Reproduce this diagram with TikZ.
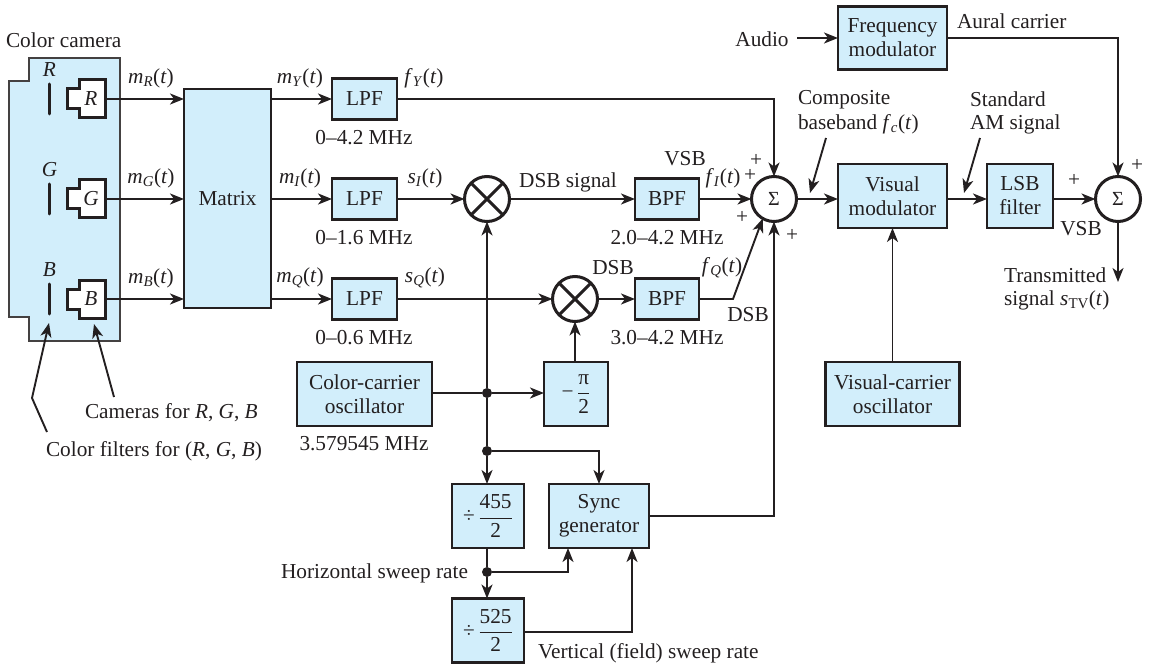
\documentclass[tikz,border=0pt]{standalone}
\usepackage{fontspec}
\setmainfont{Liberation Serif}
\usetikzlibrary{arrows.meta,calc}
\definecolor{ink}{HTML}{231F20}
\definecolor{fillb}{HTML}{D2EEFB}
\newcommand{\sg}[2]{\textit{#1}\textsubscript{\textit{#2}}(\textit{t})}
\newcommand{\frc}[2]{$\displaystyle\frac{\hbox{#1}}{\hbox{#2}}$}
\tikzset{
  box/.style={draw=ink,line width=2.1pt,fill=fillb,inner sep=0pt,outer sep=0pt,align=center,text=ink},
  sumn/.style={draw=ink,line width=3pt,fill=white,circle,inner sep=0pt,outer sep=0pt,minimum size=45pt,text=ink},
  lbl/.style={text=ink,inner sep=0pt,outer sep=0pt,align=center},
  lbll/.style={lbl,anchor=west,align=left},
  wire/.style={draw=ink,line width=1.9pt},
  arr/.style={wire,-{Stealth[length=14pt,width=11pt,inset=4pt]}},
  dotn/.style={circle,fill=ink,inner sep=0pt,outer sep=0pt,minimum size=10pt},
  cam/.style={draw=ink,line width=3pt,fill=white,line join=miter},
  filt/.style={draw=ink,line width=3pt,line cap=round}
}
\begin{document}
\begin{tikzpicture}[x=1pt,y=-1pt,font=\fontsize{21.3}{24}\selectfont]
\useasboundingbox (0,0) rectangle (1150,668);
% camera body
\draw[draw=ink!85,line width=1.9pt,fill=fillb] (29,58) -- (120,58) -- (120,341) -- (29,341) -- (29,317) -- (9,317) -- (9,81) -- (29,81) -- cycle;
\foreach \n/\c/\y in {r/R/99,g/G/199,b/B/299}{
  \draw[filt] (49.5,\y-15) -- (49.5,\y+15);
  \draw[cam] (79.5,\y-19) -- (105,\y-19) -- (105,\y+19) -- (79.5,\y+19) -- (79.5,\y+10) -- (67,\y+10) -- (67,\y-10) -- (79.5,\y-10) -- cycle;
  \node[lbl] (cam\n) at (91,\y) {\textit{\c}};
  \coordinate (camout\n) at (105,\y);
  \node[lbl] (flt\n) at (49.5,\y-29) {\textit{\c}};
}
\node[lbll] (title) at (6,40) {Color camera};
% blocks
\node[box,minimum width=87pt,minimum height=219pt] (matrix) at (227.5,198.5) {Matrix};
\foreach \n/\y/\t in {lpfa/99/LPF,lpfb/199/LPF,lpfc/299/LPF}{
  \node[box,minimum width=65pt,minimum height=41pt] (\n) at (364.5,\y) {\t};
}
\node[box,minimum width=64pt,minimum height=41pt] (bpfa) at (667,199) {BPF};
\node[box,minimum width=64pt,minimum height=41pt] (bpfb) at (667,299) {BPF};
\node[sumn] (mixa) at (487,199) {};
\node[sumn] (mixb) at (575,299) {};
\draw[draw=ink,line width=3pt] (mixa.45) -- (mixa.225) (mixa.135) -- (mixa.315);
\draw[draw=ink,line width=3pt] (mixb.45) -- (mixb.225) (mixb.135) -- (mixb.315);
\node[sumn] (suma) at (774,199) {\fontsize{20}{22}\selectfont Σ};
\node[sumn] (sumb) at (1118,199) {\fontsize{20}{22}\selectfont Σ};
\node[box,minimum width=109pt,minimum height=63pt] (freq) at (892.5,38) {Frequency\\modulator};
\node[box,minimum width=109pt,minimum height=64pt] (vis) at (892.5,196) {Visual\\modulator};
\node[box,minimum width=66pt,minimum height=64pt] (lsb) at (1020,196) {LSB\\filter};
\node[box,minimum width=134pt,minimum height=64pt] (visc) at (892.5,394) {Visual-carrier\\oscillator};
\node[box,minimum width=135pt,minimum height=64pt] (colc) at (364.5,394) {Color-carrier\\oscillator};
\node[box,minimum width=64pt,minimum height=64pt] (phase) at (576,394) {−\,\frc{π}{2}};
\node[box,minimum width=72pt,minimum height=64pt] (diva) at (488,516) {÷\,\frc{455}{2}};
\node[box,minimum width=72pt,minimum height=64pt] (divb) at (488,630.5) {÷\,\frc{525}{2}};
\node[box,minimum width=100pt,minimum height=64pt] (sync) at (599,516) {Sync\\generator};
% dots
\node[dotn] (da) at (487,393) {};
\node[dotn] (db) at (487,451) {};
\node[dotn] (dc) at (487,572) {};
% connectors
\foreach \a in {r,g,b}{ \draw[arr] (camout\a) -- (matrix.west |- camout\a); }
\draw[arr] (matrix.east |- lpfa) -- (lpfa.west);
\draw[arr] (matrix.east |- lpfb) -- (lpfb.west);
\draw[arr] (matrix.east |- lpfc) -- (lpfc.west);
\draw[arr] (lpfa.east) -| (suma.north);
\draw[arr] (lpfb.east) -- (mixa.west);
\draw[arr] (lpfc.east) -- (mixb.west);
\draw[arr] (mixa.east) -- (bpfa.west);
\draw[arr] (mixb.east) -- (bpfb.west);
\draw[arr] (bpfa.east) -- (suma.west);
\coordinate (bend) at (733,299);
\draw[arr] (bpfb.east) -- (bend) -- (suma.240);
\draw[arr] (suma.east) -- (vis.west |- suma);
\draw[arr] (vis.east |- suma) -- (lsb.west |- suma);
\draw[arr] (lsb.east |- sumb) -- (sumb.west);
\draw[arr] (visc.north) -- (vis.south);
\draw[arr] (freq.east) -| (sumb.north);
\coordinate (audioin) at (797,38);
\draw[arr] (audioin) -- (freq.west);
\coordinate (txout) at (1118,282);
\draw[arr] (sumb.south) -- (txout);
\draw[wire] (colc.east |- da) -- (da);
\draw[arr] (da) -- (phase.west |- da);
\draw[arr] (phase.north -| mixb) -- (mixb.south);
\draw[arr] (da) -- (mixa.south);
\draw[wire] (da) -- (db);
\draw[arr] (db) -- (db |- diva.north);
\draw[arr] (db) -| (sync.north);
\draw[wire] (dc |- diva.south) -- (dc);
\draw[arr] (dc) -- (dc |- divb.north);
\coordinate (ha) at (568,572);
\draw[arr] (dc) -- (ha) -- (ha |- sync.south);
\coordinate (va) at (632,632);
\draw[arr] (divb.east |- va) -- (va) -- (va |- sync.south);
\draw[arr] (sync.east) -| (suma.south);
% pointers
\coordinate (pa) at (826,138); \coordinate (pb) at (810,193);
\draw[arr] (pa) -- (pb);
\coordinate (pc) at (980,138); \coordinate (pd) at (964,193);
\draw[arr] (pc) -- (pd);
\coordinate (pe) at (94,324); \coordinate (pf) at (114,397);
\draw[arr] (pf) -- (pe);
\coordinate (pg) at (49,323); \coordinate (ph) at (32,398); \coordinate (pi) at (47,432);
\draw[arr] (pi) -- (ph) -- (pg);
% labels
\node[lbl] (l1) at (151,78) {\sg{m}{R}};
\node[lbl] (l2) at (151,178) {\sg{m}{G}};
\node[lbl] (l3) at (151,278) {\sg{m}{B}};
\node[lbl] (l4) at (300,78) {\sg{m}{Y}};
\node[lbl] (l5) at (300,178) {\sg{m}{I}};
\node[lbl] (l6) at (300,278) {\sg{m}{Q}};
\node[lbl] (l7) at (424,78) {\sg{f}{Y}};
\node[lbl] (l8) at (425,178) {\sg{s}{I}};
\node[lbl] (l9) at (425,278) {\sg{s}{Q}};
\node[lbl] (l10) at (364,138) {0–4.2 MHz};
\node[lbl] (l11) at (364,238) {0–1.6 MHz};
\node[lbl] (l12) at (364,338) {0–0.6 MHz};
\node[lbl] (l13) at (568,182) {DSB signal};
\node[lbl] (l14) at (685,159) {VSB};
\node[lbl] (l15) at (723,178) {\sg{f}{I}};
\node[lbl] (l16) at (750,175) {+};
\node[lbl] (l17) at (756,160) {+};
\node[lbl] (l18) at (742,217) {+};
\node[lbl] (l19) at (792,235) {+};
\node[lbl] (l20) at (667,238) {2.0–4.2 MHz};
\node[lbl] (l21) at (613,268) {DSB};
\node[lbl] (l22) at (722,268) {\sg{f}{Q}};
\node[lbl] (l23) at (748,315) {DSB};
\node[lbl] (l24) at (667,338) {3.0–4.2 MHz};
\node[lbll] (l25) at (798,100) {Composite};
\node[lbll] (l26) at (798,124) {baseband \textit{f}\textsubscript{\textit{c}}(\textit{t})};
\node[lbll] (l27) at (970,99) {Standard};
\node[lbll] (l28) at (970,124) {AM signal};
\node[lbll] (l29) at (957,21) {Aural carrier};
\node[lbl] (l30) at (762,39) {Audio};
\node[lbl] (l31) at (1074,180) {+};
\node[lbl] (l32) at (1081,229) {VSB};
\node[lbl] (l33) at (1137,165) {+};
\node[lbll] (l34) at (1004,275) {Transmitted};
\node[lbll] (l35) at (1004,300) {signal \textit{s}\textsubscript{TV}(\textit{t})};
\node[lbll] (l36) at (85,413) {Cameras for \textit{R}, \textit{G}, \textit{B}};
\node[lbll] (l37) at (46,451) {Color filters for (\textit{R}, \textit{G}, \textit{B})};
\node[lbl] (l38) at (364,444) {3.579545 MHz};
\node[lbl,anchor=east] (l39) at (468,573) {Horizontal sweep rate};
\node[lbll] (l40) at (538,653) {Vertical (field) sweep rate};
\end{tikzpicture}
\end{document}
